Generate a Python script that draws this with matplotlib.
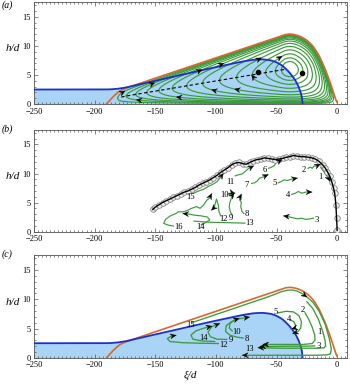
import numpy as np
import matplotlib
matplotlib.use('Agg')
import matplotlib.pyplot as plt
from matplotlib.patches import Polygon
from matplotlib.ticker import MultipleLocator

plt.rcParams['font.family'] = ['Liberation Serif', 'DejaVu Serif']
plt.rcParams['axes.unicode_minus'] = True

# ---------------- data ----------------
orange_x = [-190, -186, -182, -179, -176, -172, -160, -140, -120, -100, -80, -65, -55, -48, -43, -39, -35, -30, -25, -20, -15, -10, -5, -2, 0]
orange_h = [0.0, 1.0, 1.8, 2.3, 2.6, 2.9, 3.75, 5.15, 6.55, 7.95, 9.35, 10.4, 11.1, 11.6, 11.95, 12.05, 11.95, 11.6, 11.0, 10.0, 8.4, 6.1, 3.3, 1.3, 0.0]

blue_x = [-250, -200, -188, -182, -176, -172, -150, -130, -110, -90, -80, -70, -62, -55, -50, -45, -40, -35, -32, -30, -29, -28.5]
blue_h = [2.5, 2.5, 2.52, 2.6, 2.78, 2.95, 4.0, 4.95, 5.9, 6.8, 7.25, 7.6, 7.7, 7.55, 7.2, 6.6, 5.6, 4.3, 3.1, 2.0, 1.1, 0.0]

# streamline tips (left closing x) for panel (a)
loop_tips = [-181, -174, -166, -157, -147, -136, -124, -111, -97, -83, -70, -59, -51, -46]
dots_x = [-65, -29]
dots_h = [5.5, 5.4]

# panel (b): measured free-surface trajectory
traj_x = [-152, -150, -147, -144, -141, -138, -135, -132, -129, -126, -123, -120, -117, -114, -111, -108, -105, -102, -99, -96,
          -93, -90, -87, -84, -81, -78, -75, -72, -69, -66, -63, -60, -57, -54, -51, -48, -45, -42, -39, -36, -33, -30, -27,
          -24, -21, -18, -15, -12, -10, -8, -6, -4.5, -3, -2, -1, -0.5, 0]
traj_h = [3.8, 4.2, 4.6, 5.0, 5.3, 5.6, 5.9, 6.2, 6.5, 6.8, 7.0, 7.3, 7.6, 8.0, 8.3, 8.6, 8.9, 9.3, 9.7, 10.2,
          10.6, 11.0, 11.5, 11.8, 11.9, 11.7, 11.6, 11.9, 12.2, 12.4, 12.5, 12.7, 12.6, 12.5, 12.4, 12.5, 12.6, 12.8, 12.9, 13.1, 13.0, 12.9, 12.9,
          12.8, 12.7, 12.5, 12.1, 11.5, 11.0, 10.3, 9.5, 8.6, 7.5, 6.6, 4.5, 2.4, 0.2]

b_tracks = {
    '1': ([-13.5, -12, -10.5, -9, -7.5, -6], [11.0, 10.6, 10.2, 9.7, 9.3, 8.7]),
    '2': ([-24, -22, -20.5, -19, -17, -14], [10.9, 11.1, 10.9, 11.3, 11.3, 11.6]),
    '3': ([-19.5, -22, -26, -29, -33, -37, -41, -44], [2.3, 2.2, 2.1, 2.3, 2.2, 2.4, 2.6, 2.7]),
    '4': ([-37.5, -34.5, -32, -29, -26, -21], [6.4, 6.6, 6.9, 6.6, 6.8, 6.8]),
    '5': ([-48.5, -46, -44, -41, -38, -33], [8.4, 8.6, 8.9, 8.8, 9.0, 9.2]),
    '6': ([-56.5, -54, -51.5, -50.5, -48, -45.5], [10.9, 11.1, 11.4, 12.0, 12.1, 12.4]),
    '7': ([-70.5, -68, -66, -64, -61, -57], [8.3, 8.4, 8.7, 9.2, 9.4, 9.8]),
    '8': ([-77, -78.5, -79.5, -79, -80.5, -80, -79], [3.1, 3.5, 4.3, 5.0, 5.5, 6.0, 6.4]),
    '9': ([-86.5, -88, -89, -88.5, -87.5, -86.5, -85], [2.8, 3.4, 4.2, 5.0, 5.6, 6.2, 6.6]),
    '10': ([-90.5, -89, -88, -86.5, -84.5], [6.4, 6.6, 6.5, 6.7, 6.6]),
    '11': ([-84, -81, -78.5, -75.5, -73.5, -71.5, -69], [9.6, 9.8, 9.9, 10.4, 10.8, 11.0, 11.3]),
    '12': ([-96, -97.5, -98, -99.5, -100.5, -101.5, -103.5], [2.7, 3.5, 4.6, 5.6, 4.8, 4.1, 3.7]),
    '13': ([-76, -85, -95, -105, -112, -118], [1.45, 1.5, 1.55, 1.6, 1.7, 1.8]),
    '14': ([-112, -109, -105, -107, -112, -117, -122, -127], [1.2, 1.5, 2.0, 2.5, 2.7, 2.8, 3.0, 3.1]),
    '15': ([-118.5, -114, -110, -106, -102, -99, -96, -94], [6.6, 7.0, 7.3, 7.8, 8.2, 8.6, 9.4, 10.0]),
    '16': ([-135, -139, -143, -141.5, -137.5, -133, -131, -127, -124, -120, -116, -113, -110, -107.5, -105.5, -103.5],
           [0.95, 1.1, 1.4, 2.1, 2.7, 3.1, 3.4, 3.4, 3.6, 4.0, 4.3, 4.0, 4.6, 5.4, 5.7, 6.5]),
}
b_label_x = {'1': -14, '2': -27.8, '3': -16.8, '4': -40.7, '5': -51.7, '6': -60, '7': -74.5, '8': -74.5,
             '9': -88, '10': -93.2, '11': -88, '12': -93.5, '13': -72.0, '14': -112.5, '15': -121, '16': -131}
b_label_h = {'1': 9.4, '2': 10.6, '3': 2.0, '4': 6.3, '5': 8.3, '6': 10.6, '7': 8.0, '8': 3.1,
             '9': 2.4, '10': 6.3, '11': 8.6, '12': 2.1, '13': 1.4, '14': 0.7, '15': 5.9, '16': 0.8}
b_no_arrow = ['13']

c_tracks = {
    '15': ([-120, -110, -100, -90, -80, -70, -60, -52, -46, -41, -37, -33, -29, -25, -20, -15, -10, -6.5, -4.8, -5.5, -9, -20, -40, -60, -78],
           [6.0, 6.7, 7.4, 8.1, 8.8, 9.5, 10.2, 10.8, 11.3, 11.55, 11.6, 11.4, 11.0, 10.4, 9.5, 8.0, 5.8, 3.3, 1.5, 0.7, 0.5, 0.45, 0.45, 0.45, 0.45]),
    '1': ([-25, -20, -15.5, -12, -10, -9.5, -11, -16, -30, -45, -58, -65], [9.6, 8.4, 6.6, 4.6, 3.0, 2.0, 1.7, 1.65, 1.65, 1.65, 1.7, 1.75]),
    '2': ([-26.5, -23.5, -20.5, -18.5, -18.3, -20.5, -28, -45, -61], [7.7, 6.6, 5.2, 3.9, 3.0, 2.45, 2.3, 2.3, 2.3]),
    '3': ([-18.5, -25, -40, -55, -63.5], [2.05, 2.0, 2.0, 1.95, 1.95]),
    '4': ([-38.5, -35.8, -34.3, -34.8, -37.3], [6.45, 6.2, 5.6, 5.1, 4.95]),
    '5': ([-48.5, -42, -36, -31.5, -29.5, -30, -32.5, -36.5], [7.7, 7.95, 7.85, 7.2, 6.2, 5.1, 4.45, 4.15]),
    '8': ([-77.5, -83, -88.5, -92, -91.5, -87, -80, -72.5], [3.4, 3.55, 3.9, 4.5, 5.5, 6.2, 6.7, 6.95]),
    '9': ([-91, -99, -104.5, -106.5, -103.5, -97], [3.15, 3.2, 3.6, 4.4, 5.3, 5.85]),
    '10': ([-86.5, -89, -88.3, -85, -81], [4.6, 5.1, 5.9, 6.45, 6.75]),
    '12': ([-98, -112, -128, -138, -140, -137, -133], [2.45, 2.5, 2.6, 2.8, 3.3, 3.7, 3.85]),
    '14': ([-101, -112, -119, -120.5, -116.5, -109.5, -103.5], [2.8, 2.9, 3.2, 3.9, 4.6, 5.1, 5.4]),
}
c_label_x = {'1': -14.6, '2': -28.3, '3': -15.5, '4': -40, '5': -50.6, '8': -74.5, '9': -88, '10': -83,
             '12': -93.8, '13': -72, '14': -110, '15': -121}
c_label_h = {'1': 4.5, '2': 8.2, '3': 2.05, '4': 6.6, '5': 7.9, '8': 3.2, '9': 3.1, '10': 4.5,
             '12': 2.2, '13': 1.5, '14': 3.4, '15': 5.6}

x_ticks = [-250, -200, -150, -100, -50, 0]
y_ticks = [0, 5, 10, 15]

# ---------------- styling ----------------
GREEN = '#3c9a3c'
ORANGE = '#d8682c'
BLUE = '#1b2fcf'
FILL = '#a9d4f5'
TICK_FS = 6.0
LAB_FS = 8
NUM_FS = 6.2

W, H = 350, 384
fig = plt.figure(figsize=(W / 100, H / 100), dpi=100)
ax_pos = [[0.097, 0.729, 0.894, 0.265],
          [0.097, 0.397, 0.894, 0.2645],
          [0.097, 0.068, 0.894, 0.267]]
axes = [fig.add_axes(p) for p in ax_pos]

def smooth_curve(xs, hs, x0, x1, sigma=1.2, n_per=20):
    xf = np.arange(x0, x1, 1.0 / n_per)
    hf = np.interp(xf, xs, hs, left=0.0, right=0.0)
    k = np.arange(-4 * sigma * n_per, 4 * sigma * n_per + 1) / n_per
    g = np.exp(-0.5 * (k / sigma) ** 2); g /= g.sum()
    pad = len(k) // 2
    hp = np.pad(hf, pad, mode='edge')
    hs2 = np.convolve(hp, g, mode='valid')
    return xf, hs2

ox, oh = smooth_curve(orange_x, orange_h, -200, 6, sigma=1.0)
mask_o = (ox >= orange_x[0]) & (ox <= orange_x[-1])
bxs, bhs = smooth_curve(blue_x, blue_h, -250, -28.5, sigma=1.0)
bhs[bxs > -34] = np.interp(bxs[bxs > -34], blue_x, blue_h)
bxs = np.append(bxs, blue_x[-1]); bhs = np.append(bhs, 0.0)

def Hfun(x):
    return np.interp(x, ox, oh)

def setup(ax):
    ax.set_xlim(-250, 8)
    ax.set_ylim(0, 17.5)
    ax.set_xticks(x_ticks)
    ax.set_yticks(y_ticks)
    ax.xaxis.set_minor_locator(MultipleLocator(50 / 15))
    ax.yaxis.set_minor_locator(MultipleLocator(1))
    ax.tick_params(which='both', direction='in', top=True, right=True, width=0.5, colors='#555555',
                   labelcolor='black', labelsize=TICK_FS)
    ax.tick_params(axis='x', pad=2.6)
    ax.tick_params(axis='y', pad=2.2)
    ax.tick_params(which='major', length=3.0)
    ax.tick_params(which='minor', length=1.6)
    for s in ax.spines.values():
        s.set_linewidth(0.6)
        s.set_color('#555555')
    ax.set_ylabel('h/d', rotation=0, fontsize=LAB_FS, fontstyle='italic')
    ax.yaxis.set_label_coords(-0.068, 0.50)

def arrowhead(ax, p0, p1, L=5.5, Wd=2.5, z=8):
    T = ax.transData
    a = T.transform(p0); b = T.transform(p1)
    d = b - a
    d = d / np.hypot(*d)
    n = np.array([-d[1], d[0]])
    pts = np.array([b, b - L * d + Wd * n, b - 0.62 * L * d, b - L * d - Wd * n])
    pts = T.inverted().transform(pts)
    ax.add_patch(Polygon(pts, closed=True, fc='k', ec='k', lw=0.3, zorder=z))

for ax in axes:
    setup(ax)

# ---------------- panel (a) ----------------
ax = axes[0]
ax.fill_between(bxs, 0, bhs, color=FILL, lw=0, zorder=1)
xg = np.linspace(-200, 6, 20001)
Hg = Hfun(xg)
levels = [Hfun(t) ** 2 / 4 for t in loop_tips]
for c in levels:
    m = Hg ** 2 / 4 >= c
    xs = xg[m]
    Hs = Hg[m]
    r = np.sqrt(np.maximum(Hs ** 2 / 4 - c, 0))
    top = Hs / 2 + r
    bot = Hs / 2 - r
    px = np.concatenate([xs, xs[::-1], xs[:1]])
    ph = np.concatenate([top, bot[::-1], top[:1]])
    ax.plot(px, ph, color=GREEN, lw=0.85, zorder=3)

ax.plot(ox[mask_o], oh[mask_o], color=ORANGE, lw=1.2, zorder=4)
ax.plot(bxs, bhs, color=BLUE, lw=1.3, zorder=5)
xd = np.linspace(-178, -42, 200)
ax.plot(xd, Hfun(xd) / 2, color='k', lw=0.8, ls=(0, (3, 2.2)), zorder=6)
ax.plot(dots_x, dots_h, 'o', color='k', ms=3.0, zorder=9)

arrow_specs = [(0, 'top', -176.5), (1, 'bot', -164), (2, 'top', -152), (4, 'bot', -131), (5, 'top', -113),
               (6, 'top', -95), (7, 'bot', -102), (8, 'bot', -83), (9, 'top', -64), (10, 'bot', -69), (11, 'top', -47)]
for li, br, xa in arrow_specs:
    c = levels[li]
    def branch(x):
        Hx = Hfun(x)
        r = np.sqrt(max(Hx ** 2 / 4 - c, 0))
        return Hx / 2 + r if br == 'top' else Hx / 2 - r
    if br == 'top':
        p0, p1 = (xa - 1.5, branch(xa - 1.5)), (xa + 1.5, branch(xa + 1.5))
    else:
        p0, p1 = (xa + 1.5, branch(xa + 1.5)), (xa - 1.5, branch(xa - 1.5))
    arrowhead(ax, p0, p1)

# ---------------- panel (b) ----------------
ax = axes[1]
ax.plot(traj_x, traj_h, 'o', ms=4.0, mfc='#f2f2f2', mec='#808080', mew=0.6, zorder=4)
ax.plot(traj_x, traj_h, color='k', lw=1.0, zorder=5)
for key, (tx, th) in b_tracks.items():
    ax.plot(tx, th, color=GREEN, lw=0.85, zorder=3)
    if key not in b_no_arrow:
        arrowhead(ax, (tx[-2], th[-2]), (tx[-1], th[-1]))
    ax.text(b_label_x[key], b_label_h[key], key, fontsize=NUM_FS, ha='center', va='center', zorder=7)

# ---------------- panel (c) ----------------
ax = axes[2]
ax.fill_between(bxs, 0, bhs, color=FILL, lw=0, zorder=1)
ax.plot(ox[mask_o], oh[mask_o], color=ORANGE, lw=1.2, zorder=3)
ax.plot(bxs, bhs, color=BLUE, lw=1.3, zorder=4)
for key, (tx, th) in c_tracks.items():
    ax.plot(tx, th, color=GREEN, lw=0.95, zorder=5)
    arrowhead(ax, (tx[-2], th[-2]), (tx[-1], th[-1]))
tx, th = c_tracks['15']
arrowhead(ax, (tx[12], th[12]), (tx[13], th[13]))
for key in c_label_x:
    ax.text(c_label_x[key], c_label_h[key], key, fontsize=NUM_FS, ha='center', va='center', zorder=7)
ax.set_xlabel('ξ/d', fontsize=LAB_FS, fontstyle='italic', labelpad=0.5)

for lab, ypos in zip(['(a)', '(b)', '(c)'], [0.987, 0.664, 0.339]):
    fig.text(0.004, ypos, lab, fontsize=7, fontstyle='italic', ha='left', va='center')

fig.savefig('out.png', dpi=100)
